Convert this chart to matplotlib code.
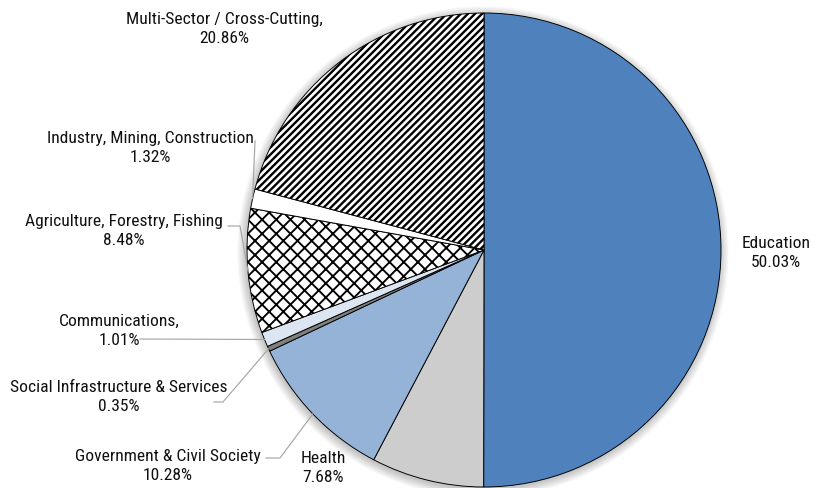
import numpy as np
import matplotlib.pyplot as plt
from matplotlib import font_manager
from matplotlib.patches import Circle

# sector shares, clockwise from 12 o'clock
sectors = ["Education", "Health", "Government & Civil Society",
           "Social Infrastructure & Services", "Communications",
           "Agriculture, Forestry, Fishing", "Industry, Mining, Construction",
           "Multi-Sector / Cross-Cutting"]
shares = [50.03, 7.68, 10.28, 0.35, 1.01, 8.48, 1.32, 20.86]
label_text = ["Education\n50.03%", "Health\n7.68%", "Government & Civil Society\n10.28%",
              "Social Infrastructure & Services\n0.35%", "Communications,\n1.01%",
              "Agriculture, Forestry, Fishing\n8.48%", "Industry, Mining, Construction\n1.32%",
              "Multi-Sector / Cross-Cutting,\n20.86%"]
colors = ["#4F81BD", "#CDCDCD", "#95B3D7", "#7F7F7F", "#DCE6F2", "white", "white", "white"]
hatches = [None, None, None, None, None, "xx", None, "////"]

W, H, DPI = 813, 488, 85
cx, cy, R = 484, H - 250, 237

# label block centres (pixels from top-left)
label_pos = [(776, 253), (323, 468), (168, 466), (119, 397),
             (119, 331), (124, 231), (150, 148), (224, 29)]
# leader line bends (pixels from top-left), last point is the rim
leaders = {6: [(255, 141)], 5: [(228, 226), (240, 226)], 4: [(140, 339)],
           3: [(214, 402), (223, 402)], 2: [(266, 458), (280, 458)]}

installed = {f.name for f in font_manager.fontManager.ttflist}
family, fsize = "Liberation Sans", 13.0
for cand in ["Liberation Sans Narrow", "Arial Narrow", "Roboto Condensed"]:
    if cand in installed:
        family, fsize = cand, 14.8
        break
plt.rcParams["font.family"] = [family, "DejaVu Sans"]
plt.rcParams["hatch.linewidth"] = 1.8

fig = plt.figure(figsize=(W / DPI, H / DPI), dpi=DPI)
ax = fig.add_axes([0, 0, 1, 1])

# soft shadow under the pie
for i in range(12):
    ax.add_patch(Circle((cx - 1, cy - 2), R + i * 0.8, color="black",
                        alpha=0.018, lw=0, zorder=0))

wedges, _ = ax.pie(shares, colors=colors, startangle=90, counterclock=False,
                   center=(cx, cy), radius=R,
                   wedgeprops=dict(edgecolor="black", linewidth=0.8))
for w, h in zip(wedges, hatches):
    if h:
        w.set_hatch(h)
        if hasattr(w, "set_hatch_linewidth"):
            w.set_hatch_linewidth(2.0 if h == "////" else 1.6)
    w.set_zorder(2)

for i, w in enumerate(wedges):
    x, y = label_pos[i]
    ax.text(x, H - y, label_text[i], ha="center", va="center", fontsize=fsize,
            linespacing=1.38, color="#111111", zorder=4)
    if i in leaders:
        mid = np.deg2rad((w.theta1 + w.theta2) / 2)
        pts = [(px, H - py) for px, py in leaders[i]]
        pts.append((cx + R * np.cos(mid), cy + R * np.sin(mid)))
        xs, ys = zip(*pts)
        ax.plot(xs, ys, color="#A6A6A6", lw=1.0, zorder=3)

ax.set_xlim(0, W)
ax.set_ylim(0, H)
ax.set_aspect("equal")
ax.axis("off")
fig.savefig("out.png", dpi=DPI)
